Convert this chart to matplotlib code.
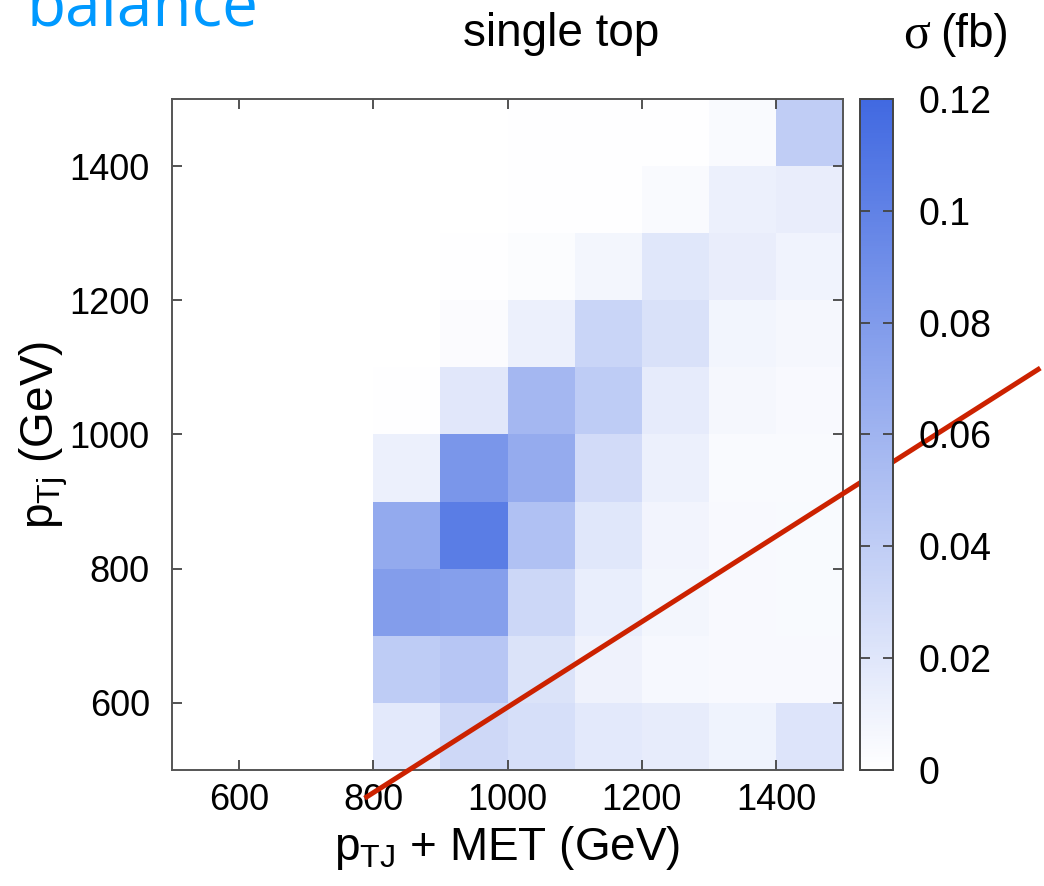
import numpy as np
import matplotlib
matplotlib.use("Agg")
import matplotlib.pyplot as plt
from matplotlib.colors import LinearSegmentedColormap

plt.rcParams['font.family'] = ['Liberation Sans', 'DejaVu Sans']
plt.rcParams['mathtext.fontset'] = 'custom'
plt.rcParams['mathtext.rm'] = 'Liberation Sans'
plt.rcParams['mathtext.it'] = 'Liberation Sans:italic'

# bin edges (GeV)
x_edges = np.arange(500, 1501, 100)   # pTJ + MET
y_edges = np.arange(500, 1501, 100)   # pTj

# cross section per bin (fb), rows from pTj = 500 (bottom) to 1500 (top)
sigma = [
    [0, 0, 0, 0.018, 0.031, 0.026, 0.018, 0.015, 0.010, 0.022],
    [0, 0, 0, 0.041, 0.0455, 0.0227, 0.0107, 0.0057, 0.005, 0.005],
    [0, 0, 0, 0.078, 0.077, 0.032, 0.0139, 0.0076, 0.005, 0.0044],
    [0, 0, 0, 0.068, 0.1036, 0.050, 0.0196, 0.0088, 0.005, 0.0044],
    [0, 0, 0, 0.0126, 0.084, 0.067, 0.029, 0.012, 0.004, 0.004],
    [0, 0, 0, 0.001, 0.019, 0.0575, 0.041, 0.0164, 0.0063, 0.005],
    [0, 0, 0, 0, 0.003, 0.0126, 0.034, 0.024, 0.008, 0.0063],
    [0, 0, 0, 0, 0.001, 0.0025, 0.0075, 0.0195, 0.0145, 0.0095],
    [0, 0, 0, 0, 0, 0.0007, 0.0007, 0.004, 0.012, 0.0145],
    [0, 0, 0, 0, 0, 0.0005, 0.001, 0.001, 0.004, 0.040],
]

# cut line
cut_x = [787, 1794]
cut_y = [458, 1099]

cbar_ticks = [0, 0.02, 0.04, 0.06, 0.08, 0.1, 0.12]
cbar_labels = ['0', '0.02', '0.04', '0.06', '0.08', '0.1', '0.12']

cmap = LinearSegmentedColormap.from_list('wb', ['#ffffff', '#4169e1'])

fig = plt.figure(figsize=(10.44, 8.86), dpi=100)
ax = fig.add_axes([0.1648, 0.1309, 0.6427, 0.7574])
cax = fig.add_axes([0.8238, 0.1309, 0.0316, 0.7574])

mesh = ax.pcolormesh(x_edges, y_edges, np.array(sigma), cmap=cmap, vmin=0, vmax=0.12)
ax.set_xlim(500, 1500)
ax.set_ylim(500, 1500)

ax.plot(cut_x, cut_y, color='#cc2200', lw=3.6, clip_on=False, solid_capstyle='butt', zorder=5)

ax.set_xticks([600, 800, 1000, 1200, 1400])
ax.set_yticks([600, 800, 1000, 1200, 1400])
ax.tick_params(direction='in', length=7, width=1.3, color='#444444', top=True, right=True,
               labelsize=26)
ax.tick_params(axis='x', pad=9)
ax.tick_params(axis='y', pad=16)
for s in ax.spines.values():
    s.set_color('#555555')
    s.set_linewidth(1.4)

ax.set_xlabel(r'$\mathrm{p_{TJ}}$ + MET (GeV)', fontsize=33)
ax.set_ylabel(r'$\mathrm{p_{Tj}}$ (GeV)', fontsize=33)
ax.xaxis.set_label_coords(0.5, -0.08)
ax.yaxis.set_label_coords(-0.152, 0.5)

cb = fig.colorbar(mesh, cax=cax, ticks=cbar_ticks)
cb.ax.set_yticklabels(cbar_labels)
cb.ax.tick_params(direction='in', length=7, width=1.3, color='#444444', left=True, right=True,
                  labelsize=27, pad=18)
cb.outline.set_edgecolor('#444444')
cb.outline.set_linewidth(1.4)

fig.text(561 / 1044, 1 - 46 / 886, 'single top', fontsize=33, ha='center', va='baseline')
fig.text(903 / 1044, 1 - 47 / 886, 'σ', fontsize=36, ha='left', va='baseline',
         family=['Liberation Serif', 'DejaVu Serif'])
fig.text(940 / 1044, 1 - 47 / 886, '(fb)', fontsize=33, ha='left', va='baseline')
fig.text(27 / 1044, 1 - 25 / 886, 'balance', fontsize=46, color='#0099ff', ha='left',
         va='baseline', family=['Open Sans', 'DejaVu Sans'])

fig.savefig('out.png', dpi=100)
